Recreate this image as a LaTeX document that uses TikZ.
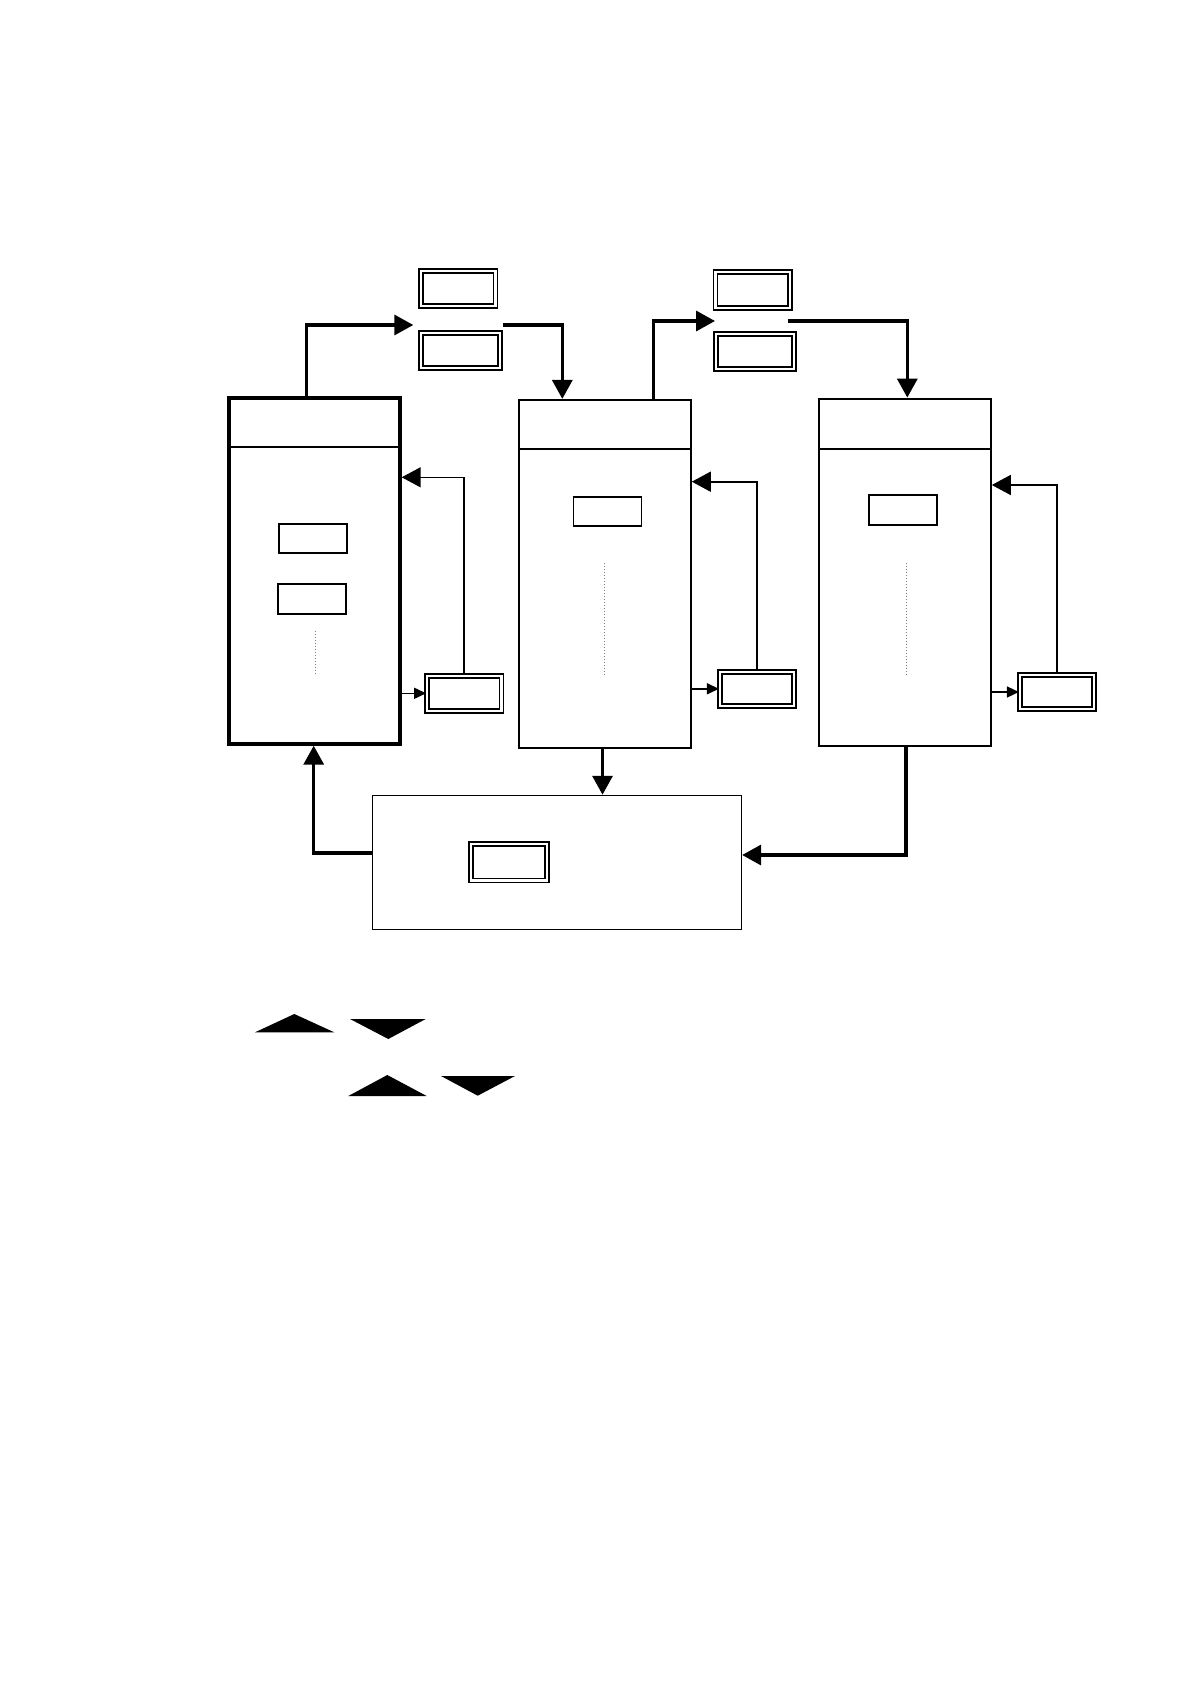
\documentclass[tikz,border=0pt]{standalone}
\usetikzlibrary{positioning, arrows.meta}

\begin{document}
\begin{tikzpicture}[
    x=0.5pt,
    y=-0.5pt,
    tank/.style={
        rectangle,
        draw,
        line width=1.1pt,
        minimum width=85.7pt,
        minimum height=174pt
    },
    smallbox/.style={
        rectangle,
        draw,
        line width=0.9pt,
        minimum width=34pt,
        minimum height=14.7pt
    },
    dbox/.style={
        rectangle,
        draw,
        line width=0.9pt,
        double,
        double distance=1.1pt,
        minimum width=37.2pt,
        minimum height=17.5pt
    },
    flow/.style={-{Triangle[length=9.5pt, width=10pt]}, line width=1.7pt},
    back/.style={-{Triangle[length=9.5pt, width=10pt]}, line width=0.8pt},
    tap/.style={-{Triangle[length=6pt, width=5.5pt]}, line width=0.8pt},
    level/.style={gray, densely dotted, line width=0.5pt}
]

\useasboundingbox (0,0) rectangle (1190,1684);

% Tanks
\node[tank, line width=2pt, minimum width=85.2pt, minimum height=173pt] (col1) at (314.5,570.7) {};
\node[tank] (col2) at (605,574) {};
\node[tank, minimum height=173.5pt] (col3) at (905,572.2) {};

% Dividers
\draw[line width=1.1pt] (col1.west |- 0,446.7) -- (col1.east |- 0,446.7);
\draw[line width=1.1pt] (col2.west |- 0,449) -- (col2.east |- 0,449);
\draw[line width=1.1pt] (col3.west |- 0,449) -- (col3.east |- 0,449);

% Inner boxes
\node[smallbox] (u1) at (313.3,538.3) {};
\node[smallbox, below=14.7pt of u1, xshift=-0.6pt] (u2) {};
\node[smallbox] (u3) at (607.5,511.3) {};
\node[smallbox] (u4) at (903.3,510) {};

% Level marks
\draw[level] (315,630.7) -- (315,673.3);
\draw[level] (604.3,563.3) -- (604.3,676.7);
\draw[level] (906.7,562.7) -- (906.7,675.7);

% Dosing boxes above
\node[dbox] (d1) at (458.3,288.8) {};
\node[dbox, minimum width=39.5pt] (d2) at (460.8,350.5) {};
\node[dbox, minimum height=17.8pt] (d3) at (752.7,290.2) {};
\node[dbox, minimum width=39.3pt, minimum height=17.8pt] (d4) at (755,351.5) {};

% Side boxes
\node[dbox] (p1) at (464.2,693.3) {};
\node[dbox, minimum height=17.2pt] (p2) at (757,688.8) {};
\node[dbox, minimum height=17.3pt] (p3) at (1057,692) {};

% Bottom tank
\node[rectangle, draw, line width=0.75pt, minimum width=184.5pt, minimum height=67pt] (sump) at (556.9,862.5) {};
\node[dbox, minimum width=37.9pt, minimum height=18.2pt] (p4) at (508.7,862.2) {};

% Gaps between the dosing boxes
\coordinate (g1in) at (413.3,325);
\coordinate (g1out) at (502.7,325);
\coordinate (g2in) at (715,321);
\coordinate (g2out) at (787.7,321);

% Main flow
\draw[flow] (306.7,0 |- col1.north) |- (g1in);
\draw[flow] (g1out) -| (562.3,0 |- col2.north);
\draw[flow] (653.3,0 |- col2.north) |- (g2in);
\draw[flow] (g2out) -| (907.3,0 |- col3.north);
\draw[flow] (602.5,0 |- col2.south) -- (602.5,0 |- sump.north);
\draw[flow] (906,0 |- col3.south) |- (sump.east |- 0,855);
\draw[flow] (sump.west |- 0,853) -| (313.7,0 |- col1.south);

% Return lines
\draw[back] (p1.north) |- (col1.east |- 0,477.3);
\draw[back] (p2.north) |- (col2.east |- 0,481.7);
\draw[back] (p3.north) |- (col3.east |- 0,485);

% Taps
\draw[tap] (col1.east |- p1.west) -- (p1.west);
\draw[tap] (col2.east |- p2.west) -- (p2.west);
\draw[tap] (col3.east |- p3.west) -- (p3.west);

% Legend marks
\fill (255,1032.3) -- (294.3,1014) -- (334.3,1032.3) -- cycle;
\fill (350,1019) -- (388.3,1039) -- (425.7,1019) -- cycle;
\fill (348.3,1096) -- (387.3,1075) -- (426.7,1096) -- cycle;
\fill (441,1076) -- (477.7,1095.7) -- (515,1076) -- cycle;

\end{tikzpicture}
\end{document}
